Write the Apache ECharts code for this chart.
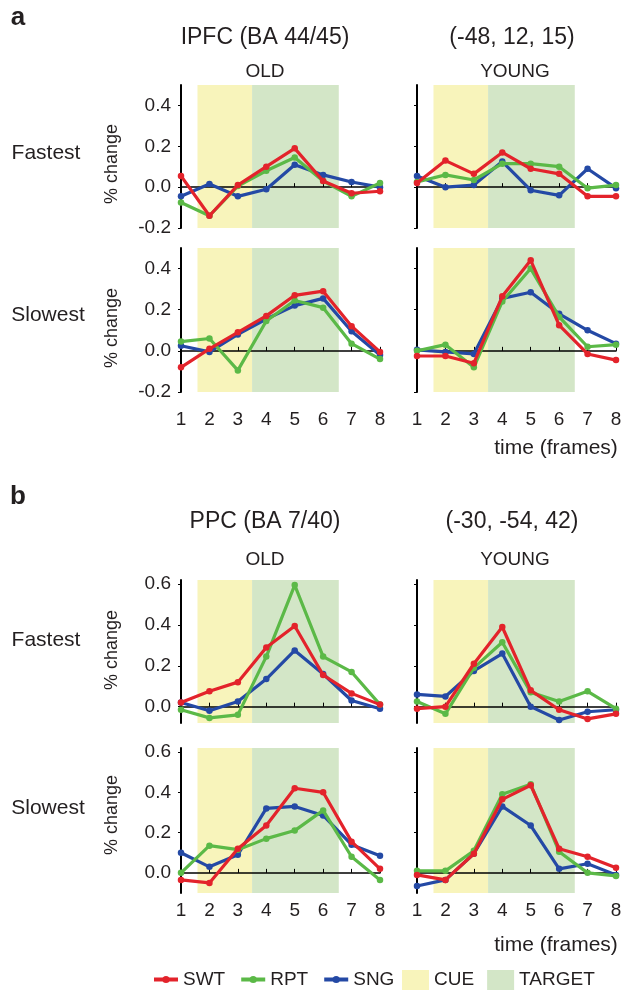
<!DOCTYPE html>
<html>
<head>
<meta charset="utf-8">
<script src="https://cdn.jsdelivr.net/npm/echarts@6/dist/echarts.min.js"></script>
<style>
  html, body { margin: 0; padding: 0; background: #fff; }
  #chart { width: 626px; height: 990px; }
</style>
</head>
<body>
<div id="chart"></div>
<script>
// frames on the x axis
const frames = [1, 2, 3, 4, 5, 6, 7, 8];
const cueSpan = [1.58, 3.5];
const targetSpan = [3.5, 6.55];

// a: lPFC, fastest
const aFastOldSWT = [0.055, -0.14, 0.01, 0.10, 0.19, 0.03, -0.03, -0.02];
const aFastOldRPT = [-0.075, -0.14, 0.005, 0.08, 0.145, 0.03, -0.045, 0.02];
const aFastOldSNG = [-0.045, 0.015, -0.045, -0.01, 0.11, 0.06, 0.025, 0.0];
const aFastYoungSWT = [0.02, 0.13, 0.065, 0.17, 0.09, 0.065, -0.045, -0.045];
const aFastYoungRPT = [0.025, 0.06, 0.035, 0.115, 0.115, 0.10, -0.005, 0.01];
const aFastYoungSNG = [0.055, 0.0, 0.01, 0.125, -0.015, -0.04, 0.09, -0.005];
// a: lPFC, slowest
const aSlowOldSWT = [-0.08, 0.01, 0.09, 0.17, 0.27, 0.29, 0.12, -0.005];
const aSlowOldRPT = [0.045, 0.06, -0.095, 0.145, 0.245, 0.21, 0.035, -0.04];
const aSlowOldSNG = [0.025, -0.005, 0.08, 0.155, 0.22, 0.255, 0.095, -0.02];
const aSlowYoungSWT = [-0.025, -0.025, -0.06, 0.265, 0.44, 0.125, -0.015, -0.045];
const aSlowYoungRPT = [0.0, 0.03, -0.08, 0.24, 0.40, 0.165, 0.02, 0.03];
const aSlowYoungSNG = [0.005, -0.005, -0.015, 0.255, 0.285, 0.18, 0.10, 0.035];
// b: PPC, fastest
const bFastOldSWT = [0.02, 0.075, 0.12, 0.29, 0.395, 0.155, 0.065, 0.01];
const bFastOldRPT = [-0.015, -0.055, -0.04, 0.245, 0.595, 0.245, 0.17, 0.01];
const bFastOldSNG = [0.02, -0.02, 0.025, 0.135, 0.275, 0.16, 0.03, -0.01];
const bFastYoungSWT = [-0.01, 0.0, 0.21, 0.39, 0.08, -0.015, -0.06, -0.035];
const bFastYoungRPT = [0.025, -0.035, 0.19, 0.315, 0.07, 0.025, 0.075, -0.01];
const bFastYoungSNG = [0.06, 0.05, 0.175, 0.26, 0.0, -0.065, -0.025, -0.015];
// b: PPC, slowest
const bSlowOldSWT = [-0.035, -0.05, 0.12, 0.235, 0.42, 0.40, 0.155, 0.02];
const bSlowOldRPT = [0.0, 0.135, 0.115, 0.17, 0.21, 0.31, 0.08, -0.035];
const bSlowOldSNG = [0.10, 0.03, 0.09, 0.32, 0.33, 0.285, 0.14, 0.085];
const bSlowYoungSWT = [-0.01, -0.035, 0.095, 0.365, 0.435, 0.12, 0.08, 0.025];
const bSlowYoungRPT = [0.01, 0.01, 0.11, 0.39, 0.44, 0.105, 0.0, -0.015];
const bSlowYoungSNG = [-0.065, -0.035, 0.095, 0.33, 0.235, 0.02, 0.045, -0.01];

const aTicks = [-0.2, 0, 0.2, 0.4];
const bTicks = [0, 0.2, 0.4, 0.6];

const FONT = '"Liberation Sans", Arial, sans-serif';
const TXT = '#231f20';
const colors = { SWT: '#e3232b', RPT: '#5bb947', SNG: '#2449a5' };
const cueColor = '#f8f4bb';
const targetColor = '#d3e6c7';

const L = 181, R = 417, W = 199;
const panels = [
  { left: L, top: 85, h: 143, min: -0.2, max: 0.5, ticks: aTicks, ylab: true, xlab: 0, d: [aFastOldSWT, aFastOldRPT, aFastOldSNG] },
  { left: R, top: 85, h: 143, min: -0.2, max: 0.5, ticks: aTicks, ylab: false, xlab: 0, d: [aFastYoungSWT, aFastYoungRPT, aFastYoungSNG] },
  { left: L, top: 248, h: 144, min: -0.2, max: 0.5, ticks: aTicks, ylab: true, xlab: 18, d: [aSlowOldSWT, aSlowOldRPT, aSlowOldSNG] },
  { left: R, top: 248, h: 144, min: -0.2, max: 0.5, ticks: aTicks, ylab: false, xlab: 18, d: [aSlowYoungSWT, aSlowYoungRPT, aSlowYoungSNG] },
  { left: L, top: 580, h: 143, min: -0.08, max: 0.62, ticks: bTicks, ylab: true, xlab: 0, d: [bFastOldSWT, bFastOldRPT, bFastOldSNG] },
  { left: R, top: 580, h: 143, min: -0.08, max: 0.62, ticks: bTicks, ylab: false, xlab: 0, d: [bFastYoungSWT, bFastYoungRPT, bFastYoungSNG] },
  { left: L, top: 748, h: 145, min: -0.1, max: 0.62, ticks: bTicks, ylab: true, xlab: 8, d: [bSlowOldSWT, bSlowOldRPT, bSlowOldSNG] },
  { left: R, top: 748, h: 145, min: -0.1, max: 0.62, ticks: bTicks, ylab: false, xlab: 8, d: [bSlowYoungSWT, bSlowYoungRPT, bSlowYoungSNG] }
];
const names = ['SWT', 'RPT', 'SNG'];

const grid = [], xAxis = [], yAxis = [], series = [];
panels.forEach((p, i) => {
  grid.push({ left: p.left, top: p.top, width: W, height: p.h });
  // zero line, drawn over the shading
  xAxis.push({
    type: 'value', gridIndex: i, min: 1, max: 8, interval: 1, z: 3,
    axisLine: { onZero: true, lineStyle: { color: '#000', width: 1.5 } },
    axisTick: { inside: true, length: 4, lineStyle: { color: '#000' } },
    axisLabel: { show: false }, splitLine: { show: false }
  });
  // frame labels under the bottom row
  xAxis.push({
    type: 'value', gridIndex: i, min: 1, max: 8, interval: 1, show: !!p.xlab, position: 'bottom',
    axisLine: { show: false, onZero: false }, axisTick: { show: false }, splitLine: { show: false },
    axisLabel: { margin: p.xlab, fontSize: 19, color: TXT, fontFamily: FONT }
  });
  yAxis.push({
    type: 'value', gridIndex: i, min: p.min, max: p.max, z: 3,
    axisLine: { show: true, onZero: false, lineStyle: { color: '#000', width: 2 } },
    axisTick: { show: true, length: 3, customValues: p.ticks, lineStyle: { color: '#000' } },
    axisLabel: { show: p.ylab, customValues: p.ticks, margin: 10, fontSize: 19, color: TXT, fontFamily: FONT,
      formatter: v => v.toFixed(1) },
    splitLine: { show: false }
  });
  series.push({
    name: 'CUE', type: 'line', xAxisIndex: 2 * i, yAxisIndex: i, data: [], color: cueColor, z: 1,
    markArea: { silent: true, itemStyle: { color: cueColor }, data: [[{ xAxis: cueSpan[0] }, { xAxis: cueSpan[1] }]] }
  });
  series.push({
    name: 'TARGET', type: 'line', xAxisIndex: 2 * i, yAxisIndex: i, data: [], color: targetColor, z: 1,
    markArea: { silent: true, itemStyle: { color: targetColor }, data: [[{ xAxis: targetSpan[0] }, { xAxis: targetSpan[1] }]] }
  });
  [2, 1, 0].forEach(k => {
    series.push({
      name: names[k], type: 'line', xAxisIndex: 2 * i, yAxisIndex: i,
      data: frames.map((f, j) => [f, p.d[k][j]]),
      color: colors[names[k]], symbol: 'circle', symbolSize: 6.5, z: 8 - k,
      lineStyle: { width: 3.2 }
    });
  });
});

function txt(text, x, y, size, extra) {
  return Object.assign({
    type: 'text', x: x, y: y,
    style: { text: text, font: size + 'px ' + FONT, fill: TXT, textAlign: 'center', textVerticalAlign: 'middle' }
  }, extra || {});
}
const boldStyle = t => ({ style: { text: t, font: 'bold 26px ' + FONT, fill: TXT, textAlign: 'center', textVerticalAlign: 'middle' } });
const graphic = [
  txt('a', 18, 18, 26, boldStyle('a')),
  txt('IPFC (BA 44/45)', 265, 38, 23),
  txt('(-48, 12, 15)', 512, 38, 23),
  txt('OLD', 265, 72, 19),
  txt('YOUNG', 515, 72, 19),
  txt('Fastest', 46, 153, 21),
  txt('Slowest', 48, 315, 21),
  txt('% change', 112, 164, 18, { rotation: Math.PI / 2 }),
  txt('% change', 112, 328, 18, { rotation: Math.PI / 2 }),
  txt('time (frames)', 556, 448, 21),
  txt('b', 18, 497, 26, boldStyle('b')),
  txt('PPC (BA 7/40)', 265, 522, 23),
  txt('(-30, -54, 42)', 512, 522, 23),
  txt('OLD', 265, 560, 19),
  txt('YOUNG', 515, 560, 19),
  txt('Fastest', 46, 640, 21),
  txt('Slowest', 48, 808, 21),
  txt('% change', 112, 650, 18, { rotation: Math.PI / 2 }),
  txt('% change', 112, 815, 18, { rotation: Math.PI / 2 }),
  txt('time (frames)', 556, 945, 21),
  txt('\u2020', 462, 145, 22),
  txt('\u2020', 225, 668, 22),
  txt('\u2021', 457, 648, 22),
  txt('\u2021\u2021', 457, 832, 22)
];

const chart = echarts.init(document.getElementById('chart'));
chart.setOption({
  animation: false,
  backgroundColor: '#fff',
  grid: grid, xAxis: xAxis, yAxis: yAxis, series: series,
  graphic: graphic,
  legend: [
    {
      left: 152, top: 970, itemGap: 14, itemWidth: 24, itemHeight: 9, padding: 0,
      lineStyle: { width: 4 },
      textStyle: { fontSize: 19, color: TXT, fontFamily: FONT },
      data: ['SWT', 'RPT', 'SNG']
    },
    {
      left: 402, top: 970, itemGap: 13, itemWidth: 27, itemHeight: 20, padding: 0,
      textStyle: { fontSize: 19, color: TXT, fontFamily: FONT },
      data: [
        { name: 'CUE', icon: 'rect', itemStyle: { color: cueColor } },
        { name: 'TARGET', icon: 'rect', itemStyle: { color: targetColor } }
      ]
    }
  ]
});
</script>
</body>
</html>
